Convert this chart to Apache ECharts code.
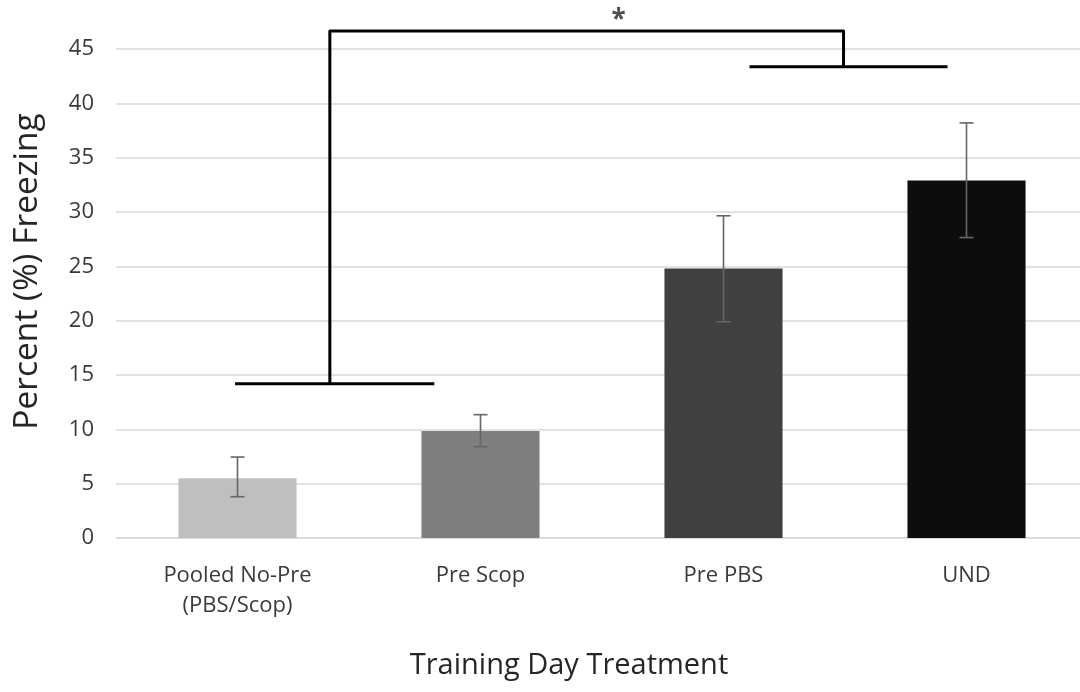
<!DOCTYPE html>
<html>
<head>
<meta charset="utf-8">
<script src="https://cdn.jsdelivr.net/npm/echarts@6/dist/echarts.min.js"></script>
<style>
html,body{margin:0;padding:0;background:#fff;}
#c{width:1080px;height:692px;}
</style>
</head>
<body>
<div id="c"></div>
<script>
// ---- data ----
var categories = ['Pooled No-Pre\n(PBS/Scop)', 'Pre Scop', 'Pre PBS', 'UND'];
var means = [5.5, 9.85, 24.8, 32.9];
var errLow = [3.8, 8.4, 19.9, 27.65];
var errHigh = [7.45, 11.35, 29.65, 38.2];
var barColors = ['#bfbfbf', '#7f7f7f', '#404040', '#0d0d0d'];
var yTicks = [0, 5, 10, 15, 20, 25, 30, 35, 40, 45];
// significance bracket (x in category-index units, y in percent)
var bracketLow = [[-0.01, 14.2], [0.81, 14.2]];
var bracketStem = [[0.38, 14.2], [0.38, 46.65], [2.494, 46.65], [2.494, 43.37]];
var bracketHigh = [[2.107, 43.37], [2.922, 43.37]];
var starPoint = [[1.568, 47.6]];

var font = '"Open Sans", "Noto Sans", sans-serif';
var chart = echarts.init(document.getElementById('c'), null, {renderer: 'canvas'});

var option = {
  animation: false,
  backgroundColor: '#ffffff',
  grid: {left: 116, width: 972, top: 49, height: 489, containLabel: false, outerBoundsMode: 'none'},
  xAxis: [{
    type: 'category',
    data: categories,
    axisLine: {show: true, lineStyle: {color: '#d9d9d9', width: 1.5}},
    axisTick: {show: false},
    axisLabel: {
      fontFamily: font, fontSize: 22, color: '#3a3a3a',
      lineHeight: 30, margin: 23, interval: 0
    },
    name: 'Training Day Treatment',
    nameLocation: 'middle',
    nameGap: 113,
    nameTextStyle: {fontFamily: font, fontSize: 29, color: '#262626', padding: [0, 66, 0, 0]}
  }, {
    type: 'value', min: -0.5, max: 3.5, show: false
  }],
  yAxis: {
    type: 'value',
    min: yTicks[0],
    max: yTicks[yTicks.length - 1],
    interval: yTicks[1] - yTicks[0],
    axisLine: {show: false},
    axisTick: {show: false},
    splitLine: {lineStyle: {color: '#d9d9d9', width: 1.5}},
    axisLabel: {fontFamily: font, fontSize: 22, color: '#3a3a3a', margin: 22},
    name: 'Percent (%) Freezing',
    nameLocation: 'middle',
    nameRotate: 90,
    nameGap: 72,
    nameTextStyle: {fontFamily: font, fontSize: 33.5, color: '#262626', padding: [0, 0, 0, 44]}
  },
  series: [{
    type: 'bar',
    xAxisIndex: 0,
    barWidth: '48.6%',
    data: means.map(function (v, i) {
      return {value: v, itemStyle: {color: barColors[i]}};
    })
  }, {
    type: 'custom',
    xAxisIndex: 0,
    data: categories.map(function (c, i) { return [i, errLow[i], errHigh[i]]; }),
    renderItem: function (params, api) {
      var x = api.value(0);
      var lo = api.coord([x, api.value(1)]);
      var hi = api.coord([x, api.value(2)]);
      var hw = 7;
      var st = {stroke: '#666666', lineWidth: 1.6};
      return {
        type: 'group',
        children: [
          {type: 'line', shape: {x1: lo[0], y1: lo[1], x2: hi[0], y2: hi[1]}, style: st},
          {type: 'line', shape: {x1: lo[0] - hw, y1: lo[1], x2: lo[0] + hw, y2: lo[1]}, style: st},
          {type: 'line', shape: {x1: hi[0] - hw, y1: hi[1], x2: hi[0] + hw, y2: hi[1]}, style: st}
        ]
      };
    },
    z: 5
  }, {
    type: 'line', xAxisIndex: 1, data: bracketLow, symbol: 'none', clip: false,
    lineStyle: {color: '#000', width: 3}, z: 6
  }, {
    type: 'line', xAxisIndex: 1, data: bracketStem, symbol: 'none', clip: false,
    lineStyle: {color: '#000', width: 3, join: 'round'}, z: 6
  }, {
    type: 'line', xAxisIndex: 1, data: bracketHigh, symbol: 'none', clip: false,
    lineStyle: {color: '#000', width: 3}, z: 6
  }, {
    type: 'scatter', xAxisIndex: 1, data: starPoint, symbolSize: 0, clip: false,
    label: {show: true, position: 'inside', formatter: '*', fontFamily: font, fontSize: 26, fontWeight: 'bold', color: '#222'},
    z: 6
  }]
};
chart.setOption(option);
</script>
</body>
</html>
